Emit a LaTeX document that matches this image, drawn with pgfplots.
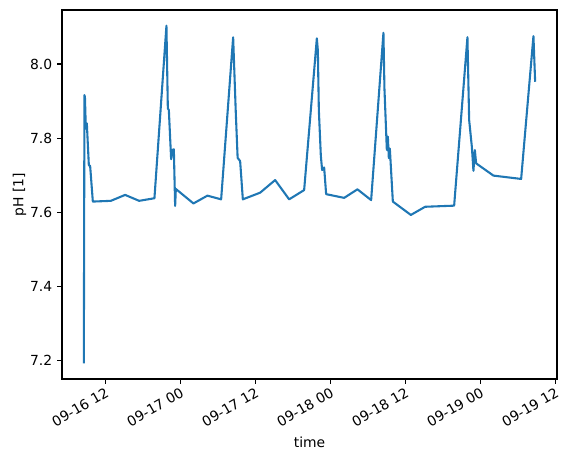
\documentclass[border=0pt]{standalone}
\usepackage{pgfplots}
\pgfplotsset{compat=1.18}
\usepackage{fontspec}
\setmainfont{DejaVu Sans}
\definecolor{mplblue}{HTML}{1F77B4}
\begin{document}
\begin{tikzpicture}
\useasboundingbox (-44.64pt,-59.76pt) rectangle (363.6pt,272.88pt);
\begin{axis}[
  at={(0pt,0pt)}, anchor=south west,
  scale only axis, width=356.4pt, height=265.7pt,
  xmin=5.05, xmax=84.25, ymin=7.1507, ymax=8.1455,
  axis line style={line width=0.8pt},
  tick align=outside, major tick length=3.5pt,
  tick style={line width=0.8pt, black},
  xtick pos=bottom, ytick pos=left,
  xtick={12,24,36,48,60,72,84},
  xticklabels={09-16 12,09-17 00,09-17 12,09-18 00,09-18 12,09-19 00,09-19 12},
  ytick={7.2,7.4,7.6,7.8,8.0},
  yticklabels={7.2,7.4,7.6,7.8,8.0},
  xticklabel style={rotate=30, anchor=north east, font=\fontsize{10}{12}\selectfont, inner sep=1.5pt},
  yticklabel style={font=\fontsize{10}{12}\selectfont},
  /pgf/number format/assume math mode=true,
  xlabel={time}, ylabel={pH [1]},
  label style={font=\fontsize{10}{12}\selectfont},
  xlabel style={yshift=-1pt},
  ylabel style={yshift=-4pt},
  clip=false,
]
\addplot[mplblue, line width=1.5pt, line join=round] coordinates {
(8.544,7.193) (8.640,7.916) (8.720,7.910) (8.864,7.826) (9.024,7.840)
(9.344,7.727) (9.552,7.725) (9.984,7.629) (12.864,7.631) (15.152,7.647)
(17.392,7.631) (19.840,7.638) (21.760,8.103) (21.984,7.880) (22.144,7.876)
(22.512,7.743) (22.672,7.768) (22.944,7.770) (23.152,7.617) (23.264,7.663)
(26.080,7.624) (28.320,7.645) (30.512,7.635) (32.432,8.072) (32.860,7.867)
(33.150,7.747) (33.552,7.738) (33.984,7.635) (36.752,7.653) (39.152,7.687)
(41.392,7.635) (43.792,7.660) (45.824,8.069) (45.984,8.037) (46.144,7.876)
(46.464,7.752) (46.672,7.714) (46.992,7.721) (47.312,7.649) (50.192,7.639)
(52.320,7.662) (54.512,7.633) (56.480,8.084) (56.640,7.934) (57.024,7.768)
(57.184,7.804) (57.344,7.746) (57.504,7.772) (57.984,7.629) (60.864,7.593)
(63.152,7.615) (67.792,7.618) (69.920,8.072) (70.192,7.849) (70.624,7.777)
(70.880,7.712) (71.104,7.768) (71.312,7.732) (74.080,7.699) (78.512,7.690)
(80.480,8.075) (80.752,7.952)
};
\end{axis}
\end{tikzpicture}
\end{document}
